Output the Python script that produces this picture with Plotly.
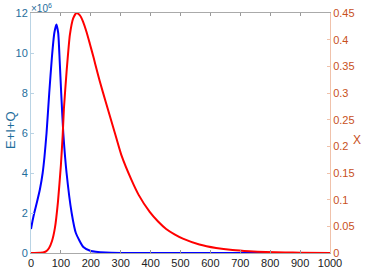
import plotly.graph_objects as go

# E+I+Q (in units of 1e6) vs time
t_blue = [0, 5, 10, 20, 30, 39, 45, 52, 61, 70, 78, 85, 91, 96, 101, 108, 119, 136, 150, 175, 200, 250, 300, 400, 600, 800, 1000]
blue = [1.2, 1.6, 1.95, 2.55, 3.2, 4.0, 4.8, 6.0, 8.0, 9.8, 11.0, 11.43, 11.0, 9.6, 8.0, 6.0, 4.0, 2.0, 1.0, 0.3, 0.1, 0.02, 0.0, 0.0, 0.0, 0.0, 0.0]

# X vs time
t_red = [0, 30, 40, 50, 60, 70, 80, 90, 100, 106, 110, 119, 130, 141, 152, 163, 174, 186, 197, 210, 220, 230, 250, 280, 302, 336, 360, 397, 425, 452, 480, 508, 563, 619, 674, 730, 785, 850, 900, 1000]
red = [0, 0.0005, 0.001, 0.003, 0.009, 0.022, 0.047, 0.095, 0.165, 0.221, 0.27, 0.34, 0.409, 0.44, 0.45, 0.446, 0.434, 0.414, 0.392, 0.365, 0.343, 0.322, 0.283, 0.226, 0.184, 0.137, 0.109, 0.077, 0.059, 0.045, 0.035, 0.027, 0.016, 0.0094, 0.0055, 0.0032, 0.0019, 0.001, 0.0006, 0.0002]

x_ticks = [0, 100, 200, 300, 400, 500, 600, 700, 800, 900, 1000]
left_ticks = [0, 2, 4, 6, 8, 10, 12]
right_ticks = [0, 0.05, 0.1, 0.15, 0.2, 0.25, 0.3, 0.35, 0.4, 0.45]

LEFT_C = "#1f6e9c"
RIGHT_C = "#c8501c"
FONT = "Liberation Sans, Arial, sans-serif"

W, H = 367, 269
ML, MR, MT, MB = 31, 37, 13, 16

fig = go.Figure()
fig.add_trace(go.Scatter(x=t_red, y=red, mode="lines", yaxis="y2",
                         line=dict(color="#ff0000", width=2, shape="spline", smoothing=0.5),
                         showlegend=False, hoverinfo="skip"))
fig.add_trace(go.Scatter(x=t_blue, y=blue, mode="lines",
                         line=dict(color="#0000ff", width=2, shape="spline", smoothing=0.5),
                         showlegend=False, hoverinfo="skip"))

pw, ph = W - ML - MR, H - MT - MB
def px2paper(px, py):
    return (px - ML) / pw, (H - MB - py) / ph

ex, ey = px2paper(10, 130)
xx, xy = px2paper(357, 140)

fig.update_layout(
    width=W, height=H,
    margin=dict(l=ML, r=MR, t=MT, b=MB, autoexpand=False),
    paper_bgcolor="white", plot_bgcolor="white",
    font=dict(family=FONT, size=11, color="#222"),
    xaxis=dict(range=[0, 1000], tickvals=x_ticks, ticktext=[str(v) for v in x_ticks],
               ticks="inside", ticklen=3, tickcolor="#999", showline=True, linecolor="#aaa",
               mirror="ticks", showgrid=False, zeroline=False, automargin=False,
               tickfont=dict(size=11, color="#222")),
    yaxis=dict(range=[0, 12], tickvals=left_ticks, ticktext=[str(v) for v in left_ticks],
               ticks="inside", ticklen=3, tickcolor="#b9d3e4", showline=True, linecolor="#b9d3e4",
               showgrid=False, zeroline=False, automargin=False,
               tickfont=dict(size=11, color=LEFT_C)),
    yaxis2=dict(range=[0, 0.45], tickvals=right_ticks, ticktext=[str(v) for v in right_ticks],
                overlaying="y", side="right", ticks="inside", ticklen=3, tickcolor="#f0c2ab",
                showline=True, linecolor="#f0c2ab", showgrid=False, zeroline=False,
                automargin=False, tickfont=dict(size=11, color=RIGHT_C)),
    annotations=[
        dict(x=0, y=1, xref="paper", yref="paper", xanchor="left", yanchor="bottom",
             text="×10<sup>6</sup>", showarrow=False,
             font=dict(size=10, color=LEFT_C), xshift=-2, yshift=-3),
        dict(x=ex, y=ey, xref="paper", yref="paper", xanchor="center", yanchor="middle",
             text="E+I+Q", showarrow=False, textangle=-90,
             font=dict(size=13, color=LEFT_C)),
        dict(x=xx, y=xy, xref="paper", yref="paper", xanchor="center", yanchor="middle",
             text="X", showarrow=False, font=dict(size=12, color=RIGHT_C)),
    ],
)

fig.write_html("out.html", config={"displayModeBar": False, "staticPlot": True})

# remove the default page margin so the figure sits at the window's top-left
with open("out.html", encoding="utf-8") as f:
    html = f.read()
html = html.replace("<head>", "<head><style>html,body{margin:0;padding:0;overflow:hidden;}</style>", 1)
with open("out.html", "w", encoding="utf-8") as f:
    f.write(html)
